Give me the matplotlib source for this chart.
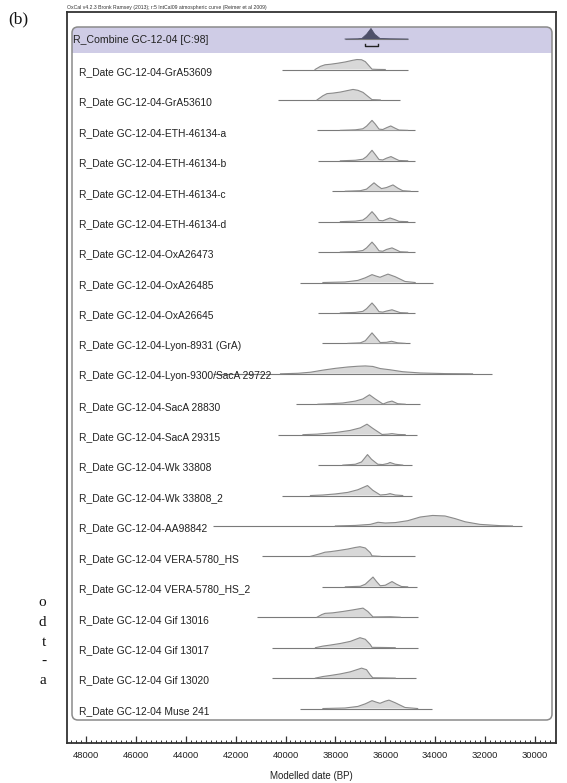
import matplotlib
matplotlib.use("Agg")
import matplotlib.pyplot as plt
from matplotlib.patches import FancyBboxPatch, Rectangle
from matplotlib.ticker import MultipleLocator
import numpy as np

# ---------------- data ----------------
combine_label = "R_Combine GC-12-04 [C:98]"
combine_range = [37614, 35088]
combine_dates = [37614, 37100, 36932, 36750, 36572, 36420, 36210, 35800, 35088]
combine_dens = [0, 0.02, 0.06, 0.45, 1.0, 0.45, 0.05, 0.02, 0]
combine_bracket = [36812, 36291]

labels = [
    "R_Date GC-12-04-GrA53609",
    "R_Date GC-12-04-GrA53610",
    "R_Date GC-12-04-ETH-46134-a",
    "R_Date GC-12-04-ETH-46134-b",
    "R_Date GC-12-04-ETH-46134-c",
    "R_Date GC-12-04-ETH-46134-d",
    "R_Date GC-12-04-OxA26473",
    "R_Date GC-12-04-OxA26485",
    "R_Date GC-12-04-OxA26645",
    "R_Date GC-12-04-Lyon-8931 (GrA)",
    "R_Date GC-12-04-Lyon-9300/SacA 29722",
    "R_Date GC-12-04-SacA 28830",
    "R_Date GC-12-04-SacA 29315",
    "R_Date GC-12-04-Wk 33808",
    "R_Date GC-12-04-Wk 33808_2",
    "R_Date GC-12-04-AA98842",
    "R_Date GC-12-04 VERA-5780_HS",
    "R_Date GC-12-04 VERA-5780_HS_2",
    "R_Date GC-12-04 Gif 13016",
    "R_Date GC-12-04 Gif 13017",
    "R_Date GC-12-04 Gif 13020",
    "R_Date GC-12-04 Muse 241",
]

range_start = [40140, 40299, 38737, 38697, 38135, 38697, 38697, 39419, 38697, 38536, 42907,
               39579, 40299, 38697, 40140, 42907, 40942, 38536, 41143, 40541, 40541, 39419]
range_end = [35088, 35409, 34807, 34807, 34687, 34807, 34807, 34085, 34807, 35008, 31719,
             34607, 34727, 34927, 34927, 30516, 34807, 34727, 34687, 34687, 34767, 34125]

d_grA53609 = [38817, 38600, 38416, 38200, 37900, 37600, 37300, 37133, 36950, 36800, 36650, 36531, 36300, 36000]
h_grA53609 = [0, 0.30, 0.45, 0.50, 0.60, 0.72, 0.88, 0.95, 0.93, 0.75, 0.35, 0.03, 0.01, 0]
d_grA53610 = [38737, 38500, 38336, 38100, 37800, 37500, 37293, 37100, 36892, 36700, 36531, 36200]
h_grA53610 = [0, 0.40, 0.60, 0.65, 0.75, 0.90, 1.00, 0.92, 0.72, 0.35, 0.03, 0]
d_eth_a = [37800, 37200, 36900, 36750, 36531, 36400, 36250, 36100, 35950, 35780, 35600, 35450, 35100]
h_eth_a = [0, 0.05, 0.15, 0.40, 0.95, 0.60, 0.12, 0.08, 0.25, 0.42, 0.20, 0.03, 0]
d_eth_b = [37800, 37200, 36900, 36750, 36531, 36400, 36250, 36100, 35950, 35770, 35600, 35450, 35100]
h_eth_b = [0, 0.05, 0.15, 0.40, 1.00, 0.60, 0.12, 0.08, 0.25, 0.40, 0.20, 0.03, 0]
d_eth_c = [37600, 37000, 36750, 36451, 36300, 36150, 35950, 35690, 35500, 35300, 35000]
h_eth_c = [0, 0.05, 0.20, 0.80, 0.50, 0.25, 0.35, 0.60, 0.30, 0.05, 0]
d_eth_d = [37800, 37200, 36900, 36750, 36531, 36400, 36250, 36100, 35950, 35810, 35600, 35450, 35100]
h_eth_d = [0, 0.05, 0.15, 0.40, 0.95, 0.60, 0.12, 0.08, 0.22, 0.35, 0.18, 0.03, 0]
d_oxa26473 = [37800, 37200, 36900, 36750, 36531, 36400, 36250, 36100, 35950, 35729, 35550, 35400, 35100]
h_oxa26473 = [0, 0.05, 0.15, 0.40, 0.95, 0.60, 0.12, 0.08, 0.25, 0.40, 0.20, 0.03, 0]
d_oxa26485 = [38500, 37614, 37100, 36800, 36531, 36350, 36210, 36000, 35890, 35600, 35208, 34800]
h_oxa26485 = [0, 0.05, 0.20, 0.45, 0.75, 0.60, 0.50, 0.70, 0.80, 0.55, 0.10, 0]
d_oxa26645 = [37800, 37200, 36900, 36750, 36531, 36400, 36250, 36100, 35950, 35729, 35550, 35400, 35100]
h_oxa26645 = [0, 0.05, 0.15, 0.40, 0.95, 0.60, 0.12, 0.08, 0.18, 0.30, 0.15, 0.03, 0]
d_lyon8931 = [37500, 37000, 36800, 36531, 36350, 36200, 35950, 35750, 35500, 35200]
h_lyon8931 = [0, 0.05, 0.25, 1.00, 0.50, 0.08, 0.10, 0.20, 0.05, 0]
d_lyon9300 = [40200, 39500, 39000, 38500, 38000, 37500, 37100, 36800, 36500, 36200, 35800, 35300, 34600, 33600, 32500]
h_lyon9300 = [0, 0.05, 0.15, 0.35, 0.52, 0.65, 0.72, 0.75, 0.70, 0.50, 0.38, 0.20, 0.08, 0.02, 0]
d_sacA28830 = [38700, 38200, 37700, 37200, 36900, 36632, 36400, 36090, 35900, 35729, 35500, 35200]
h_sacA28830 = [0, 0.05, 0.12, 0.30, 0.50, 0.90, 0.50, 0.02, 0.20, 0.30, 0.05, 0]
d_sacA29315 = [39300, 38737, 38000, 37414, 37000, 36732, 36500, 36130, 35900, 35730, 35489, 35200]
h_sacA29315 = [0, 0.05, 0.20, 0.40, 0.65, 1.00, 0.60, 0.02, 0.05, 0.10, 0.02, 0]
d_wk33808 = [37700, 37200, 36950, 36712, 36550, 36300, 36100, 35900, 35810, 35600, 35300]
h_wk33808 = [0, 0.08, 0.30, 1.00, 0.55, 0.08, 0.05, 0.15, 0.25, 0.08, 0]
d_wk33808_2 = [39000, 38500, 38000, 37500, 37100, 36712, 36500, 36200, 35950, 35810, 35600, 35300]
h_wk33808_2 = [0, 0.05, 0.15, 0.30, 0.55, 0.95, 0.50, 0.05, 0.10, 0.18, 0.05, 0]
d_aa98842 = [38000, 37200, 36600, 36291, 36000, 35600, 35100, 34600, 34100, 33604, 33200, 32800, 32200, 31400, 30900]
h_aa98842 = [0, 0.05, 0.15, 0.35, 0.28, 0.32, 0.50, 0.85, 1.00, 0.95, 0.70, 0.40, 0.15, 0.03, 0]
d_vera_hs = [39000, 38617, 38416, 38200, 37900, 37500, 37200, 37013, 36800, 36600, 36531, 36200]
h_vera_hs = [0, 0.25, 0.40, 0.45, 0.55, 0.70, 0.85, 0.92, 0.80, 0.35, 0.05, 0]
d_vera_hs2 = [37600, 37000, 36800, 36491, 36350, 36200, 36000, 35729, 35550, 35350, 35100]
h_vera_hs2 = [0, 0.05, 0.25, 0.93, 0.50, 0.10, 0.15, 0.50, 0.25, 0.03, 0]
d_gif13016 = [38737, 38550, 38416, 38100, 37700, 37300, 36892, 36700, 36491, 36100, 35800, 35400]
h_gif13016 = [0, 0.25, 0.37, 0.42, 0.55, 0.70, 0.87, 0.55, 0.03, 0.04, 0.05, 0]
d_gif13017 = [38800, 38500, 38200, 37800, 37400, 37013, 36800, 36600, 36531, 36100, 35600]
h_gif13017 = [0, 0.15, 0.25, 0.40, 0.60, 0.95, 0.80, 0.30, 0.03, 0.02, 0]
d_gif13020 = [38800, 38500, 38200, 37800, 37400, 36950, 36750, 36600, 36500, 36100, 35600]
h_gif13020 = [0, 0.15, 0.25, 0.40, 0.60, 0.95, 0.80, 0.30, 0.03, 0.02, 0]
d_muse241 = [38500, 37614, 37100, 36800, 36531, 36350, 36210, 36000, 35850, 35600, 35208, 34700]
h_muse241 = [0, 0.05, 0.20, 0.45, 0.75, 0.60, 0.50, 0.70, 0.80, 0.55, 0.10, 0]

curve_dates = [d_grA53609, d_grA53610, d_eth_a, d_eth_b, d_eth_c, d_eth_d, d_oxa26473, d_oxa26485,
               d_oxa26645, d_lyon8931, d_lyon9300, d_sacA28830, d_sacA29315, d_wk33808, d_wk33808_2,
               d_aa98842, d_vera_hs, d_vera_hs2, d_gif13016, d_gif13017, d_gif13020, d_muse241]
curve_dens = [h_grA53609, h_grA53610, h_eth_a, h_eth_b, h_eth_c, h_eth_d, h_oxa26473, h_oxa26485,
              h_oxa26645, h_lyon8931, h_lyon9300, h_sacA28830, h_sacA29315, h_wk33808, h_wk33808_2,
              h_aa98842, h_vera_hs, h_vera_hs2, h_gif13016, h_gif13017, h_gif13020, h_muse241]

x_major = 2000
x_minor = 200
xlim = (48762, 29153)
header = "OxCal v4.2.3 Bronk Ramsey (2013); r:5 IntCal09 atmospheric curve (Reimer et al 2009)"
xlabel = "Modelled date (BP)"
fragments = ["o", "d", "t", "-", "a"]

# ---------------- layout (pixels) ----------------
W, H, DPI = 567, 783, 100
AX_L, AX_R, AX_T, AX_B = 67, 556, 12, 743
ROW0, ROW_STEP = 72, 30.43
COMB_Y = 40
PEAK = 10.5

SANS = ["Liberation Sans", "DejaVu Sans"]
SERIF = ["Liberation Serif", "DejaVu Serif"]

fig = plt.figure(figsize=(W / DPI, H / DPI), dpi=DPI)
ax = fig.add_axes([AX_L / W, 1 - AX_B / H, (AX_R - AX_L) / W, (AX_B - AX_T) / H])
ax.set_xlim(*xlim)
ax.set_ylim(AX_B, AX_T)

axw, axh = AX_R - AX_L, AX_B - AX_T


def fx(px):
    return (px - AX_L) / axw


def fy(py):
    return (AX_B - py) / axh


rad = 6
hdr = FancyBboxPatch((fx(72), fy(53)), fx(552) - fx(72), fy(27) - fy(53),
                     boxstyle=f"round,pad=0,rounding_size={rad / axw}",
                     mutation_aspect=axw / axh, transform=ax.transAxes,
                     facecolor="#cfcce6", edgecolor="none", zorder=1)
ax.add_patch(hdr)
ax.add_patch(Rectangle((fx(72), fy(53)), fx(552) - fx(72), fy(42) - fy(53),
                       transform=ax.transAxes, facecolor="#cfcce6", edgecolor="none", zorder=1))
box = FancyBboxPatch((fx(72), fy(720)), fx(552) - fx(72), fy(27) - fy(720),
                     boxstyle=f"round,pad=0,rounding_size={rad / axw}",
                     mutation_aspect=axw / axh, transform=ax.transAxes,
                     facecolor="none", edgecolor="#8a8a8a", linewidth=1.1, zorder=2)
ax.add_patch(box)

LINE_C = "#7a7a7a"
FILL_C = "#d8d8d8"
EDGE_C = "#8a8a8a"


def draw_dist(ybase, start, end, dates, dens, fill, edge, lw=0.8):
    ax.plot([start, end], [ybase, ybase], color=LINE_C, lw=0.8, zorder=3,
            solid_capstyle="butt")
    top = ybase - np.asarray(dens) * PEAK
    ax.fill_between(dates, ybase, top, facecolor=fill, edgecolor="none", zorder=3)
    ax.plot(dates, top, color=edge, lw=lw, zorder=4)


cb = COMB_Y - 1
draw_dist(cb, combine_range[0], combine_range[1], combine_dates, combine_dens,
          "#4e5068", "#4e5068", lw=0.6)
bx0, bx1 = combine_bracket
ax.plot([bx0, bx0, bx1, bx1], [cb + 5, cb + 7, cb + 7, cb + 5], color="#222222", lw=1.0, zorder=4)
ax.text(fx(73), fy(COMB_Y), combine_label, transform=ax.transAxes, ha="left", va="center",
        fontsize=7.6, family=SANS, color="#222222", zorder=5)

for i, lab in enumerate(labels):
    ly = ROW0 + i * ROW_STEP
    ax.text(fx(79), fy(ly), lab, transform=ax.transAxes, ha="left", va="center",
            fontsize=7.4, family=SANS, color="#222222", zorder=5)
    draw_dist(ly - 2.5, range_start[i], range_end[i], curve_dates[i], curve_dens[i],
              FILL_C, EDGE_C)

for s in ax.spines.values():
    s.set_color("#333333")
    s.set_linewidth(1.3)
ax.xaxis.set_major_locator(MultipleLocator(x_major))
ax.xaxis.set_minor_locator(MultipleLocator(x_minor))
ax.tick_params(axis="x", which="major", direction="in", length=5, width=0.9,
               color="#333333", labelsize=6.8, pad=6, top=False)
ax.tick_params(axis="x", which="minor", direction="in", length=2.5, width=0.7,
               color="#333333", top=False)
ax.set_yticks([])
for t in ax.get_xticklabels():
    t.set_family(SANS)
    t.set_color("#222222")
ax.set_xlabel(xlabel, fontsize=7.0, family=SANS, color="#222222", labelpad=8)

fig.text(AX_L / W, 1 - 7 / H, header, ha="left", va="center", fontsize=3.7,
         family=SANS, color="#333333")
fig.text(8 / W, 1 - 19 / H, "(b)", ha="left", va="center", fontsize=12.5,
         family=SERIF, color="#111111")
for k, f in enumerate(fragments):
    fig.text(46 / W, 1 - (603 + 19.5 * k) / H, f, ha="right", va="center",
             fontsize=11, family=SERIF, color="#111111")

fig.savefig("out.png", dpi=DPI)
